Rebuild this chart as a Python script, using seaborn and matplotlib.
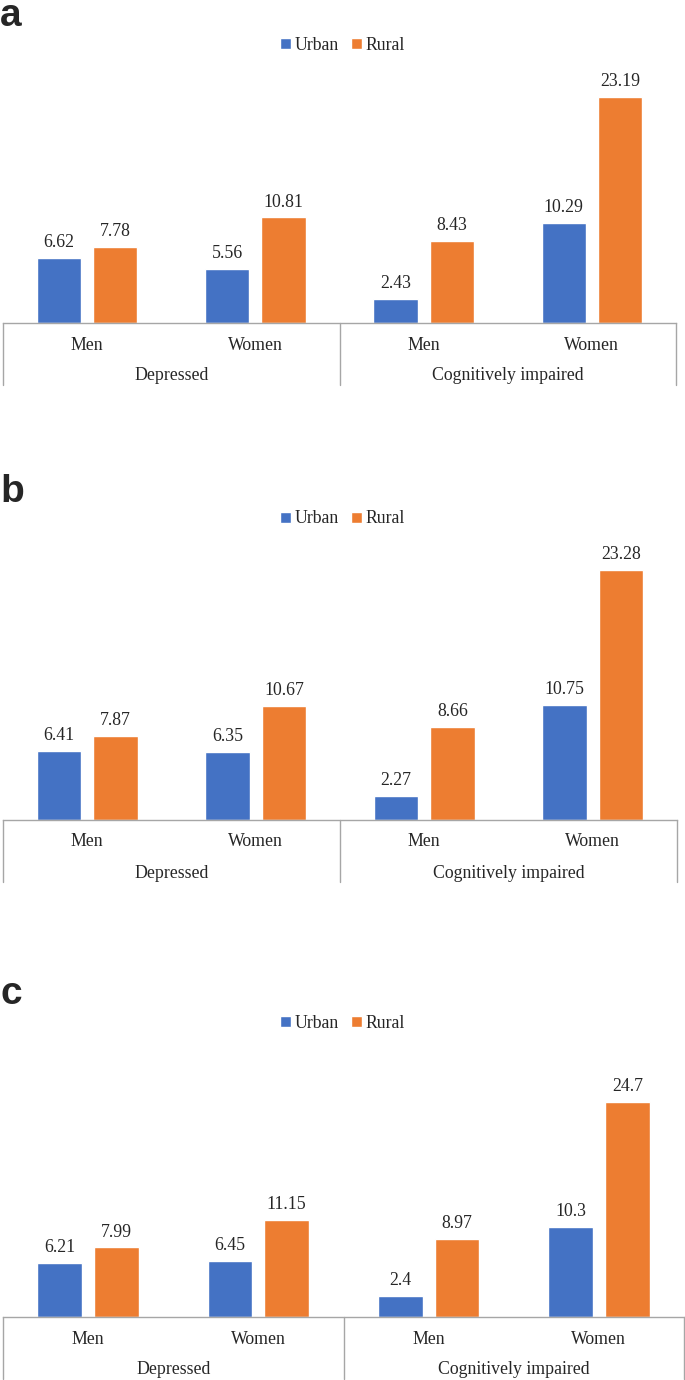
import matplotlib
matplotlib.use("Agg")
import matplotlib.pyplot as plt
import matplotlib.transforms as mtransforms
import numpy as np
import pandas as pd
import seaborn as sns

# values
keys = ["Depressed Men", "Depressed Women", "Cognitive Men", "Cognitive Women"]
sex_labels = ["Men", "Women", "Men", "Women"]
groups = ["Depressed", "Cognitively impaired"]
areas = ["Urban", "Rural"]

urban_a = [6.62, 5.56, 2.43, 10.29]
rural_a = [7.78, 10.81, 8.43, 23.19]
urban_b = [6.41, 6.35, 2.27, 10.75]
rural_b = [7.87, 10.67, 8.66, 23.28]
urban_c = [6.21, 6.45, 2.4, 10.3]
rural_c = [7.99, 11.15, 8.97, 24.7]

panel_letters = ["a", "b", "c"]
ymax = [25, 25, 30]

colors = {"Urban": "#4472C4", "Rural": "#ED7D31"}

sns.set_theme(style="white")
plt.rcParams["font.family"] = ["Liberation Serif", "DejaVu Serif"]

FS = 12.8
W, H = 685, 1380
fig = plt.figure(figsize=(W / 100, H / 100), dpi=100)

# pixel layout: (left, right, top, baseline, legend y, letter baseline)
layout = [
    (3, 676, 79, 323, 45, 26),
    (3, 677, 552, 820, 519, 502),
    (3, 684, 1056, 1317, 1023, 1004),
]

panels = [(urban_a, rural_a), (urban_b, rural_b), (urban_c, rural_c)]

for i, ((urb, rur), (l, r, t, b, ly, lety)) in enumerate(zip(panels, layout)):
    ax = fig.add_axes([l / W, 1 - b / H, (r - l) / W, (b - t) / H])
    df = pd.DataFrame({
        "key": keys * 2,
        "area": ["Urban"] * 4 + ["Rural"] * 4,
        "value": urb + rur,
    })
    sns.barplot(data=df, x="key", y="value", hue="area", hue_order=areas,
                order=keys, palette=colors, width=0.667, gap=0.21,
                saturation=1, ax=ax, legend=True)
    for cont in ax.containers:
        ax.bar_label(cont, fmt="%g", padding=5, fontsize=FS)
    ax.set_ylim(0, ymax[i])
    ax.set_xlim(-0.5, 3.5)
    ax.set_xlabel("")
    ax.set_ylabel("")
    ax.set_xticks([])
    ax.set_yticks([])
    for s in ["top", "right", "left"]:
        ax.spines[s].set_visible(False)
    ax.spines["bottom"].set_color("#A6A6A6")
    ax.spines["bottom"].set_linewidth(1)

    # two-level category table under the axis
    xt = ax.get_xaxis_transform()
    drop = 62 / (b - t)
    for xv in [-0.5, 1.5, 3.5]:
        ax.plot([xv, xv], [0, -drop], transform=xt, color="#A6A6A6",
                lw=1, clip_on=False)
    t1 = mtransforms.offset_copy(xt, fig=fig, x=0, y=-22, units="dots")
    t2 = mtransforms.offset_copy(xt, fig=fig, x=0, y=-53, units="dots")
    for k, lab in enumerate(sex_labels):
        ax.text(k, 0, lab, transform=t1, ha="center", va="center",
                fontsize=FS)
    for g, lab in enumerate(groups):
        ax.text(0.5 + 2 * g, 0, lab, transform=t2, ha="center", va="center",
                fontsize=FS)

    leg = ax.legend(loc="center", bbox_to_anchor=(0.5, 1 - ly / H),
                    bbox_transform=fig.transFigure, ncol=2, frameon=False,
                    fontsize=FS, handlelength=0.6, handleheight=0.6,
                    handletextpad=0.2, columnspacing=0.7)

    fig.text(0, 1 - lety / H, panel_letters[i], fontsize=28,
             fontweight="bold", family=["Liberation Sans", "DejaVu Sans"],
             ha="left", va="baseline")

fig.savefig("out.png", dpi=100)
